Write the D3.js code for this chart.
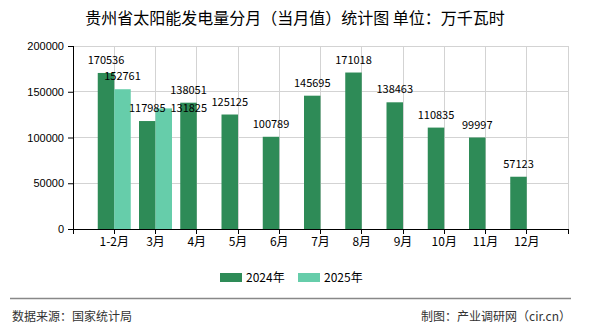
<!DOCTYPE html>
<html>
<head>
<meta charset="utf-8">
<script src="https://cdn.jsdelivr.net/npm/d3@7"></script>
<style>
  html, body { margin: 0; padding: 0; background: #fff; }
  svg { display: block; font-family: "Noto Sans CJK SC", "Noto Sans", sans-serif; }
</style>
</head>
<body>
<svg id="chart" width="590" height="330"></svg>
<script>
const title = "贵州省太阳能发电量分月（当月值）统计图 单位：万千瓦时";
const categories = ["1-2月", "3月", "4月", "5月", "6月", "7月", "8月", "9月", "10月", "11月", "12月"];
const seriesNames = ["2024年", "2025年"];
const values2024 = [170536, 117985, 138051, 125125, 100789, 145695, 171018, 138463, 110835, 99997, 57123];
const values2025 = [152761, 131825, null, null, null, null, null, null, null, null, null];
const yTicks = [0, 50000, 100000, 150000, 200000];
const sourceText = "数据来源：国家统计局";
const makerText = "制图：产业调研网（cir.cn）";

const colors = ["#2e8b57", "#66cdaa"];
const svg = d3.select("#chart");

const pLeft = 73, pRight = 568, pTop = 46, pBottom = 229;

const x = d3.scalePoint().domain(categories).range([pLeft, pRight]).padding(1);
const step = x.step();
const y = d3.scaleLinear().domain([0, 200000]).range([pBottom, pTop]);
const inner = d3.scaleBand().domain(seriesNames).range([-step * 0.4, step * 0.4]).padding(0);

// title
svg.append("text").attr("x", 295).attr("y", 24).attr("text-anchor", "middle")
  .attr("font-size", 16).attr("fill", "#000").text(title);

// grid
const gridX = [pLeft, ...categories.map(c => x(c)), pRight];
svg.append("g").selectAll("line").data(gridX).join("line")
  .attr("x1", d => d).attr("x2", d => d).attr("y1", pTop).attr("y2", pBottom)
  .attr("stroke", "#d3d3d3").attr("stroke-width", 1).attr("shape-rendering", "crispEdges");
svg.append("g").selectAll("line").data(yTicks).join("line")
  .attr("x1", pLeft).attr("x2", pRight).attr("y1", d => y(d)).attr("y2", d => y(d))
  .attr("stroke", "#d3d3d3").attr("stroke-width", 1).attr("shape-rendering", "crispEdges");

// bars
const series = [values2024, values2025];
series.forEach((vals, si) => {
  const data = categories.map((c, i) => ({ c, v: vals[i], i })).filter(d => d.v != null);
  svg.append("g").selectAll("rect").data(data).join("rect")
    .attr("x", d => x(d.c) + inner(seriesNames[si]))
    .attr("width", inner.bandwidth())
    .attr("y", d => y(d.v))
    .attr("height", d => y(0) - y(d.v))
    .attr("fill", colors[si]);
});

// value labels (one label nudged as in the reference's collision layout)
const nudge = { "1-1": [25, 13] };
series.forEach((vals, si) => {
  const data = categories.map((c, i) => ({ c, v: vals[i], i })).filter(d => d.v != null);
  svg.append("g").selectAll("text").data(data).join("text")
    .attr("x", d => x(d.c) + inner(seriesNames[si]) + inner.bandwidth() / 2 + ((nudge[si + "-" + d.i] || [0, 0])[0]))
    .attr("y", d => y(d.v) - 9 + ((nudge[si + "-" + d.i] || [0, 0])[1]))
    .attr("text-anchor", "middle").attr("font-size", 11).attr("fill", "#000")
    .text(d => d.v);
});

// axes
const yAxis = d3.axisLeft(y).tickValues(yTicks).tickSize(5).tickPadding(4).tickFormat(d3.format("d"));
const gy = svg.append("g").attr("transform", `translate(${pLeft},0)`).call(yAxis);
gy.selectAll("text").attr("font-size", 11).attr("fill", "#000").style("font-family", "inherit");
gy.selectAll("line, path").attr("stroke", "#000");
gy.select(".domain").attr("d", `M0.5,${pTop}V${pBottom}`);

const gx = svg.append("g").attr("transform", `translate(0,${pBottom})`);
gx.append("line").attr("x1", pLeft).attr("x2", pRight).attr("y1", 0.5).attr("y2", 0.5).attr("stroke", "#000");
gx.selectAll("line.t").data(gridX).join("line").attr("class", "t")
  .attr("x1", d => d).attr("x2", d => d).attr("y1", 0).attr("y2", 5).attr("stroke", "#000")
  .attr("shape-rendering", "crispEdges");
gx.selectAll("text").data(categories).join("text")
  .attr("x", d => x(d)).attr("y", 17).attr("text-anchor", "middle")
  .attr("font-size", 12).attr("fill", "#000").text(d => d);

// legend
const legendX = [220, 298];
seriesNames.forEach((n, i) => {
  svg.append("rect").attr("x", legendX[i]).attr("y", 273).attr("width", 22).attr("height", 9).attr("fill", colors[i]);
  svg.append("text").attr("x", legendX[i] + 26).attr("y", 282).attr("font-size", 12).attr("fill", "#000").text(n);
});

// footer
svg.append("line").attr("x1", 10).attr("x2", 571).attr("y1", 298.5).attr("y2", 298.5)
  .attr("stroke", "#888").attr("stroke-width", 1.5);
svg.append("text").attr("x", 12).attr("y", 321).attr("font-size", 12).attr("fill", "#333").text(sourceText);
svg.append("text").attr("x", 571).attr("y", 321).attr("text-anchor", "end").attr("font-size", 12).attr("fill", "#333").text(makerText);
</script>
</body>
</html>
